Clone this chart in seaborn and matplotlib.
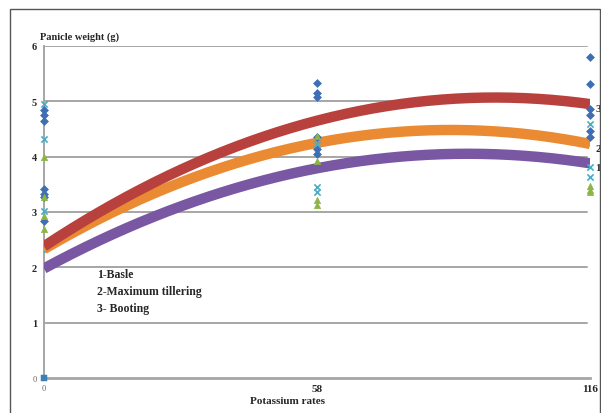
import numpy as np
import pandas as pd
import matplotlib
matplotlib.use("Agg")
import matplotlib.pyplot as plt
import seaborn as sns

# ---- data ----
rates = [0, 58, 116]
rate_ticks = [0, 58, 116]
y_ticks = [0, 1, 2, 3, 4, 5, 6]

blue_x = [0, 0, 0, 0, 0, 0, 0, 58, 58, 58, 58, 58, 58, 116, 116, 116, 116, 116, 116]
blue_y = [4.85, 4.75, 4.65, 3.42, 3.33, 3.27, 2.84, 5.33, 5.15, 5.08, 4.35, 4.14, 4.05, 5.81, 5.32, 4.86, 4.76, 4.46, 4.36]

green_x = [0, 0, 0, 0, 58, 58, 58, 58, 116, 116, 116]
green_y = [4.0, 3.28, 2.93, 2.7, 4.38, 3.92, 3.22, 3.12, 3.47, 3.4, 3.36]

cyan_x = [0, 0, 0, 58, 58, 58, 116, 116, 116]
cyan_y = [4.95, 4.32, 3.02, 4.23, 3.45, 3.36, 4.59, 3.82, 3.63]

square_x = [0]
square_y = [0]

# quadratic trendline values at 0, 58, 116
trend_booting = [2.38, 4.65, 4.95]     # 3 (red)
trend_maxtill = [2.33, 4.25, 4.23]     # 2 (orange)
trend_extra = [2.27, 4.20, 4.20]       # thin cyan
trend_basle = [1.98, 3.79, 3.88]       # 1 (purple)

legend_lines = ["1-Basle", "2-Maximum tillering", "3- Booting"]
end_labels = ["3", "2", "1"]

# ---- figure ----
sns.set_style("white")
plt.rcParams['font.family'] = ['Liberation Serif', 'DejaVu Serif']

fig = plt.figure(figsize=(6.01, 4.14), dpi=100)
# outer frame
fig.patches.append(plt.Rectangle((10 / 601, -0.01), 590 / 601, (414 - 10) / 414 + 0.01,
                                 transform=fig.transFigure, fill=False,
                                 edgecolor="#555555", linewidth=1.0))
ax = fig.add_axes([44 / 601, (414 - 379) / 414, (590 - 44) / 601, (379 - 47) / 414])

grid_col = "#a6a6a6"
for v in y_ticks[1:]:
    ax.axhline(v, color=grid_col, linewidth=1.4, zorder=0, xmax=0.995)

xs = np.linspace(0, 116, 200)


def trend_frame(vals, name):
    coef = np.polyfit(rates, vals, 2)
    return pd.DataFrame({"x": xs, "y": np.polyval(coef, xs), "s": name})


for vals, col, lw in [(trend_extra, "#4bacc6", 1.5),
                      (trend_basle, "#7a57a2", 7.5),
                      (trend_maxtill, "#ea8a32", 7.5),
                      (trend_booting, "#b8413d", 7.5)]:
    df = trend_frame(vals, "t")
    sns.lineplot(data=df, x="x", y="y", ax=ax, color=col, linewidth=lw,
                 solid_capstyle="butt", zorder=3, legend=False)

sns.scatterplot(x=blue_x, y=blue_y, ax=ax, marker="D", s=16, color="#3e6fb5",
                edgecolor="#3e6fb5", linewidth=0.5, zorder=5, clip_on=False)
sns.scatterplot(x=green_x, y=green_y, ax=ax, marker="^", s=20, color="#8cb545",
                edgecolor="#8cb545", linewidth=0.5, zorder=5, clip_on=False)
sns.scatterplot(x=cyan_x, y=cyan_y, ax=ax, marker="x", s=20, color="#4bacc6",
                linewidth=1.2, zorder=5, clip_on=False)
sns.scatterplot(x=square_x, y=square_y, ax=ax, marker="s", s=20, color="#3e7fb5",
                edgecolor="#3e7fb5", zorder=6, clip_on=False)

ax.set_xlim(0, 116)
ax.set_ylim(0, 6)
for s in ["top", "right"]:
    ax.spines[s].set_visible(False)
ax.spines["left"].set_color(grid_col)
ax.spines["left"].set_linewidth(1.4)
ax.spines["bottom"].set_color(grid_col)
ax.spines["bottom"].set_linewidth(2.0)

ax.set_yticks(y_ticks)
ax.set_yticklabels([str(v) for v in y_ticks], fontsize=7.5, fontweight="bold")
ax.get_yticklabels()[0].set_fontweight("normal")
ax.get_yticklabels()[0].set_color("#666666")
ax.get_yticklabels()[0].set_fontsize(6)
ax.tick_params(axis="y", length=0, pad=5)

ax.set_xticks(rate_ticks)
ax.set_xticklabels([str(v) for v in rate_ticks], fontsize=8, fontweight="bold")
xl = ax.get_xticklabels()
xl[0].set_fontweight("normal")
xl[0].set_color("#666666")
xl[0].set_fontsize(6)
ax.tick_params(axis="x", length=2, color=grid_col, pad=2)

ax.set_xlabel("")
ax.set_ylabel("")
fig.text(287 / 601, 1 - 402 / 414, "Potassium rates", fontsize=8,
         fontweight="bold", va="center", ha="center")

fig.text(40 / 601, 1 - 37 / 414, "Panicle weight (g)", fontsize=7.5,
         fontweight="bold", va="center", ha="left")

for i, t in enumerate(legend_lines):
    fig.text(97 / 601, 1 - (275 + 17 * i) / 414, t, fontsize=8.5,
             fontweight="bold", va="center", ha="left")

for lab, vals in zip(end_labels, [trend_booting, trend_maxtill, trend_basle]):
    ax.annotate(lab, xy=(116, vals[-1]), xytext=(4, -3), textcoords="offset points",
                fontsize=8, fontweight="bold", va="center", ha="left",
                annotation_clip=False)

fig.savefig("out.png", dpi=100)
